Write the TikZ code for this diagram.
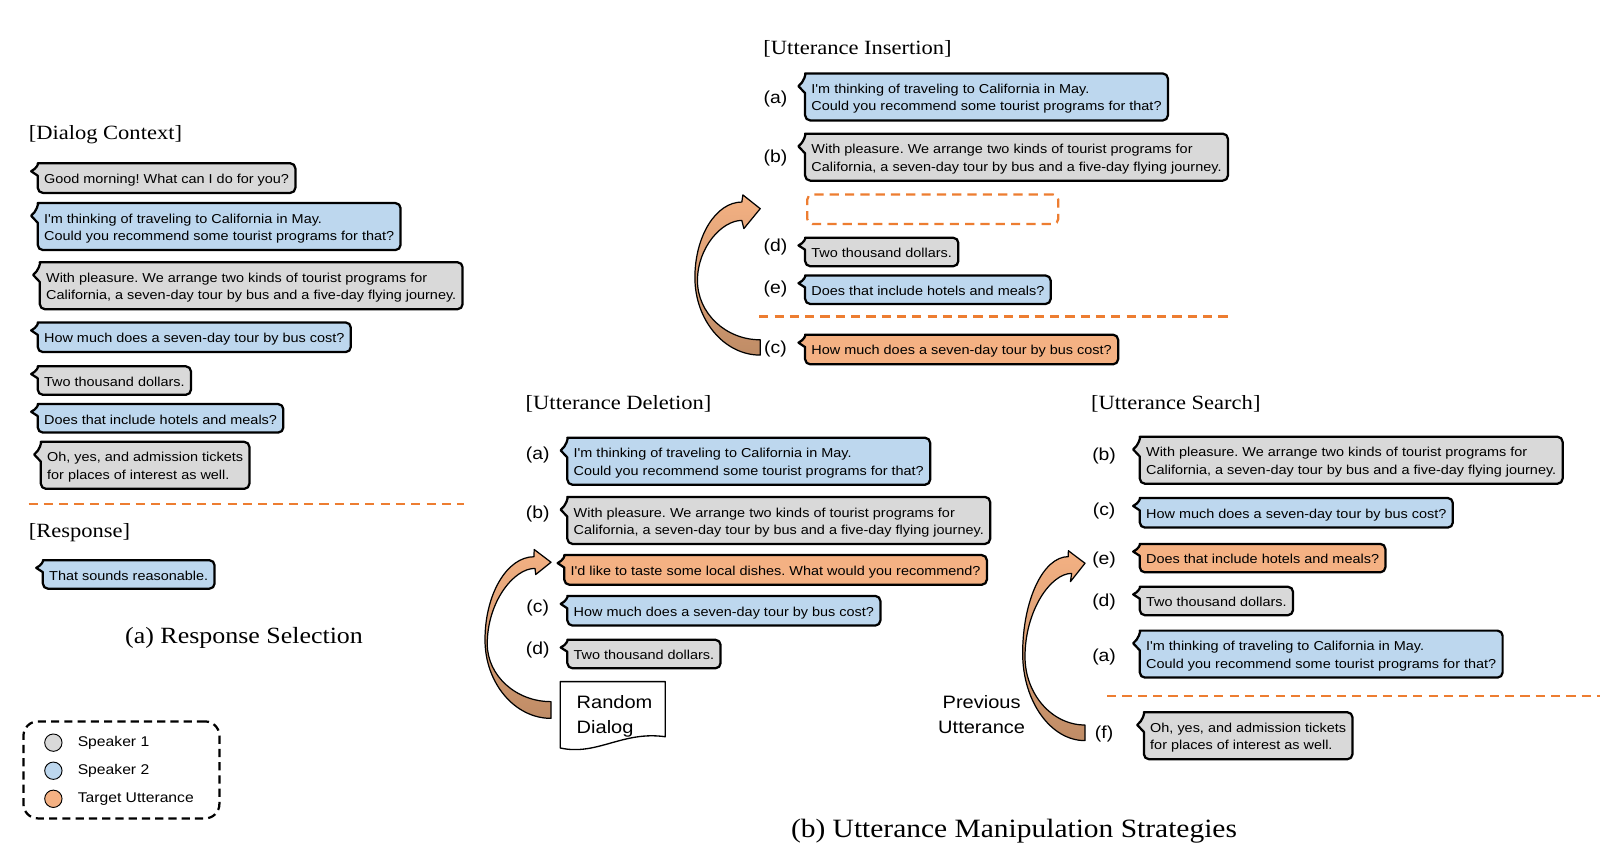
\documentclass[tikz,border=0pt]{standalone}
\usepackage{fontspec}
\newfontfamily\bfam{Liberation Sans}[FakeStretch=1.115]
\newfontfamily\tfam{Liberation Serif}[FakeStretch=1.115]
\usetikzlibrary{calc}
\frenchspacing
\definecolor{cgray}{HTML}{D9D9D9}
\definecolor{cblue}{HTML}{BDD7EE}
\definecolor{corange}{HTML}{F4B183}
\definecolor{dorange}{HTML}{ED7D31}
\definecolor{alight}{HTML}{F4B183}
\definecolor{amid}{HTML}{E8A877}
\definecolor{adark}{HTML}{BF8C66}
\pgfdeclarelayer{paper}
\pgfdeclarelayer{bub}
\pgfsetlayers{paper,bub,main}
\newcommand\bst{\rule[-1.5pt]{0pt}{14.5pt}}
\tikzset{
  btxt/.style={font=\bfam\fontsize{12.7}{17}\selectfont\frenchspacing, align=left, inner xsep=6pt, inner ysep=6.5pt,
    anchor=north west},
  bframe/.style={draw=black, line width=2.2pt, line join=round},
  lab/.style={font=\bfam\fontsize{17}{20}\selectfont, inner sep=0pt},
  head/.style={font=\tfam\fontsize{19.8}{24}\selectfont, anchor=base west, inner sep=0pt},
  capa/.style={font=\tfam\fontsize{22.8}{26}\selectfont, anchor=base west, inner sep=0pt},
  capb/.style={font=\tfam\fontsize{25.9}{30}\selectfont, anchor=base west, inner sep=0pt},
  odash/.style={draw=dorange, line width=2.3pt, dash pattern=on 9pt off 6pt},
  carrow/.style={draw=black, line width=1.2pt, line join=round, top color=alight, middle color=amid, bottom color=adark},
  bigtxt/.style={font=\bfam\fontsize{17.6}{24.5}\selectfont, inner sep=0pt},
  legtxt/.style={font=\bfam\fontsize{13.8}{16}\selectfont, inner sep=0pt, anchor=west},
  legdot/.style={circle, draw=black, line width=0.9pt, minimum size=17pt, inner sep=0pt},
}
\newcommand\bub[5]{%
  \node[btxt] (#1) at (#2,#3) {\bst#5\bst};
  \begin{pgfonlayer}{bub}
  \path[bframe,fill=#4] let \p1=(#1.north west), \p2=(#1.south east), \n1={\y1-\y2} in
    (\x1,{\y1-0.42*\n1}) [rounded corners=5pt] -- (\x1,\y2) -- (\x2,\y2) -- (\x2,\y1) -- ({\x1+5pt},\y1)
    [sharp corners] .. controls ({\x1+1pt},\y1) and ({\x1-1pt},{\y1-0.18*\n1}) .. ({\x1-6.5pt},{\y1-0.27*\n1}) -- cycle;
  \end{pgfonlayer}}
\begin{document}
\begin{tikzpicture}[x=1pt,y=-1pt]
\useasboundingbox (0,0) rectangle (1568,841);
\begin{pgfonlayer}{paper}\fill[white] (0,0) rectangle (1568,841);\end{pgfonlayer}

% ---------- (a) Response Selection ----------
\node[head] (hdc) at (28,137) {[Dialog Context]};
\bub{l1}{37}{160}{cgray}{Good morning! What can I do for you?}
\bub{l2}{37}{199}{cblue}{I'm thinking of traveling to California in May.\\Could you recommend some tourist programs for that?}
\bub{l3}{39}{257}{cgray}{With pleasure. We arrange two kinds of tourist programs for\\California, a seven-day tour by bus and a five-day flying journey.}
\bub{l4}{37}{316}{cblue}{How much does a seven-day tour by bus cost?}
\bub{l5}{37}{359}{cgray}{Two thousand dollars.}
\bub{l6}{37}{396}{cblue}{Does that include hotels and meals?}
\bub{l7}{40}{433}{cgray}{Oh, yes, and admission tickets\\for places of interest as well.}
\coordinate (da1) at (28,494);
\coordinate (da2) at (455,494);
\draw[odash] (da1) -- (da2);
\node[head] (hresp) at (28,527) {[Response]};
\bub{resp}{42}{549}{cblue}{That sounds reasonable.}
\node[capa] (capa) at (122.5,630.5) {(a) Response Selection};

% legend
\node[draw=black, line width=2.2pt, dash pattern=on 8pt off 5pt, rounded corners=14pt,
      minimum width=192pt, minimum height=95pt, inner sep=0pt] (legend) at (119,754.5) {};
\node[legdot, fill=cgray] (lg1) at (52.3,727.8) {};
\node[legdot, fill=cblue] (lg2) at (52.3,755.3) {};
\node[legdot, fill=corange] (lg3) at (52.3,782.8) {};
\node[legtxt] (lt1) at (76,727.8) {Speaker 1};
\node[legtxt] (lt2) at (76,755.3) {Speaker 2};
\node[legtxt] (lt3) at (76,782.8) {Target Utterance};

% ---------- Utterance Insertion ----------
\node[head] (hins) at (748,53) {[Utterance Insertion]};
\node[lab] (Lia) at (760,97) {(a)};
\node[lab] (Lib) at (760,155) {(b)};
\node[lab] (Lid) at (760,242) {(d)};
\node[lab] (Lie) at (760,283) {(e)};
\node[lab] (Lic) at (760,342) {(c)};
\bub{Bia}{789}{72}{cblue}{I'm thinking of traveling to California in May.\\Could you recommend some tourist programs for that?}
\bub{Bib}{789}{131}{cgray}{With pleasure. We arrange two kinds of tourist programs for\\California, a seven-day tour by bus and a five-day flying journey.}
\node[draw=dorange, line width=2.2pt, dash pattern=on 9pt off 6pt, rounded corners=5pt,
      minimum width=246pt, minimum height=29pt, inner sep=0pt, anchor=north west] (slot) at (790,189.5) {};
\bub{Bid}{789}{233}{cgray}{Two thousand dollars.}
\bub{Bie}{789}{270}{cblue}{Does that include hotels and meals?}
\coordinate (di1) at (744,310);
\coordinate (di2) at (1205,310);
\draw[odash] (di1) -- (di2);
\bub{Bic}{789}{328}{corange}{How much does a seven-day tour by bus cost?}
% curved arrow (insertion)
\path[carrow] (727,198) .. controls (701.7,198) and (681,231.3) .. (681,272)
  .. controls (681,313.8) and (709.8,348) .. (745,348) -- (745,333)
  .. controls (711.2,333) and (683.5,306.9) .. (683.5,275)
  .. controls (683.5,242.5) and (707.4,216) .. (727,216)
  -- (729,224) -- (745,204.5) -- (728,191) -- cycle;

% ---------- Utterance Deletion ----------
\node[head] (hdel) at (515,401) {[Utterance Deletion]};
\node[lab] (Lda) at (527,446) {(a)};
\node[lab] (Ldb) at (527,504) {(b)};
\node[lab] (Ldc) at (527,596) {(c)};
\node[lab] (Ldd) at (527,637) {(d)};
\bub{Bda}{556}{429}{cblue}{I'm thinking of traveling to California in May.\\Could you recommend some tourist programs for that?}
\bub{Bdb}{556}{487}{cgray}{With pleasure. We arrange two kinds of tourist programs for\\California, a seven-day tour by bus and a five-day flying journey.}
\bub{Bdx}{553}{544}{corange}{I'd like to taste some local dishes. What would you recommend?}
\bub{Bdc}{556}{584}{cblue}{How much does a seven-day tour by bus cost?}
\bub{Bdd}{556}{627}{cgray}{Two thousand dollars.}
% document shape
\draw[line width=1.3pt, fill=white, line join=round] (549,668) -- (652,668) -- (652,722)
  .. controls (610,716) and (585,741) .. (549,733) -- cycle;
\node[bigtxt, align=left, anchor=west] (rd) at (565,701.8) {Random\\Dialog};
% curved arrow (deletion)
\path[carrow] (523.3,545.6) .. controls (496.9,545.6) and (475.3,582.2) .. (475.3,627)
  .. controls (475.3,669.4) and (504.4,704) .. (540,704) -- (540,687.6)
  .. controls (505.6,687.6) and (477.5,662.1) .. (477.5,631)
  .. controls (477.5,590.3) and (503.2,557) .. (524.3,557)
  -- (525,563) -- (540,551) -- (523.5,538.5) -- cycle;

% ---------- Utterance Search ----------
\node[head] (hsea) at (1069,401) {[Utterance Search]};
\node[lab] (Lsb) at (1082,447) {(b)};
\node[lab] (Lsc) at (1082,501) {(c)};
\node[lab] (Lse) at (1082,549) {(e)};
\node[lab] (Lsd) at (1082,590) {(d)};
\node[lab] (Lsa) at (1082,644) {(a)};
\node[lab] (Lsf) at (1082,719) {(f)};
\bub{Bsb}{1117}{428}{cgray}{With pleasure. We arrange two kinds of tourist programs for\\California, a seven-day tour by bus and a five-day flying journey.}
\bub{Bsc}{1117}{488}{cblue}{How much does a seven-day tour by bus cost?}
\bub{Bse}{1117}{533}{corange}{Does that include hotels and meals?}
\bub{Bsd}{1117}{575}{cgray}{Two thousand dollars.}
\bub{Bsa}{1117}{618}{cblue}{I'm thinking of traveling to California in May.\\Could you recommend some tourist programs for that?}
\coordinate (ds1) at (1085,682);
\coordinate (ds2) at (1568,682);
\draw[odash] (ds1) -- (ds2);
\bub{Bsf}{1121}{698}{cgray}{Oh, yes, and admission tickets\\for places of interest as well.}
\node[bigtxt, align=center] (pu) at (962,700) {Previous\\Utterance};
% curved arrow (search)
\path[carrow] (1046.9,545.5) .. controls (1022.3,545.5) and (1002.2,588.2) .. (1002.2,640.3)
  .. controls (1002.2,687.3) and (1029.7,725.8) .. (1063.3,725.8) -- (1063.3,710.5)
  .. controls (1031,710.5) and (1004.5,680.4) .. (1004.5,643.5)
  .. controls (1004.5,598.6) and (1029.6,561.9) .. (1050.2,561.9)
  -- (1049,570) -- (1063.3,552) -- (1047,539.7) -- cycle;

\node[capb] (capb) at (775,821) {(b) Utterance Manipulation Strategies};
\end{tikzpicture}
\end{document}
